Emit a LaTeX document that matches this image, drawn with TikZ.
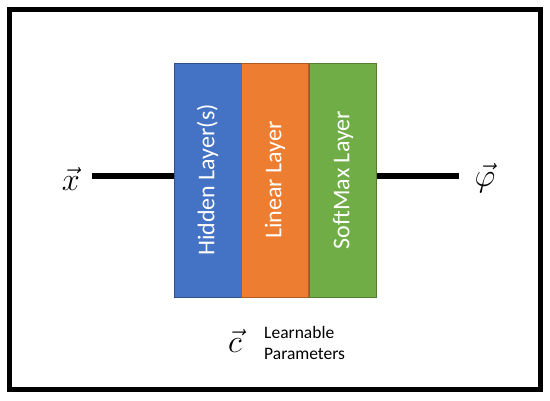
\documentclass[tikz,border=0pt]{standalone}
\usepackage{amsmath}
\usepackage{fontspec}
\setmainfont{Carlito}
\begin{document}
\begin{tikzpicture}[x=1pt,y=-1pt,
  layer/.style={minimum width=67pt,minimum height=234pt,inner sep=0pt,line width=0.8pt,
    text=white,font=\fontsize{24}{28}\selectfont},
  wire/.style={line width=6pt},
  vlab/.style={font=\fontsize{24.88}{30}\selectfont,anchor=base,inner sep=0pt}]
\useasboundingbox (0,0) rectangle (550,400);
\fill[white] (0,0) rectangle (550,400);
\draw[line width=5pt] (9.5,9.5) rectangle (540.5,389.5);
\definecolor{cblue}{HTML}{4472C4}\definecolor{cblueb}{HTML}{2F528F}
\definecolor{corange}{HTML}{ED7D31}\definecolor{coranb}{HTML}{AE5A21}
\definecolor{cgreen}{HTML}{70AD47}\definecolor{cgreenb}{HTML}{507E32}
\node[layer,fill=cblue,draw=cblueb] (hid) at (207.5,180) {\rotatebox{90}{Hidden Layer(s)}};
\node[layer,fill=corange,draw=coranb] (lin) at (275,180) {\rotatebox{90}{Linear Layer}};
\node[layer,fill=cgreen,draw=cgreenb] (soft) at (343,180) {\rotatebox{90}{SoftMax Layer}};
\coordinate (xin) at (92,176);
\coordinate (xout) at (459,176);
\draw[wire] (xin) -- (hid.west |- xin);
\draw[wire] (soft.east |- xout) -- (xout);
\node[vlab] (xl) at (71,190) {\scalebox{1.3}{$\vec{x}$}};
\node[vlab] (phil) at (485,186) {\scalebox{1.3}{$\vec{\varphi}$}};
\node[vlab] (cl) at (235,352) {\scalebox{1.3}{$\vec{c}$}};
\node[anchor=west,align=left,inner sep=0pt,font=\fontsize{17.5}{21}\selectfont] (lp) at (264,343) {Learnable\\Parameters};
\end{tikzpicture}
\end{document}
